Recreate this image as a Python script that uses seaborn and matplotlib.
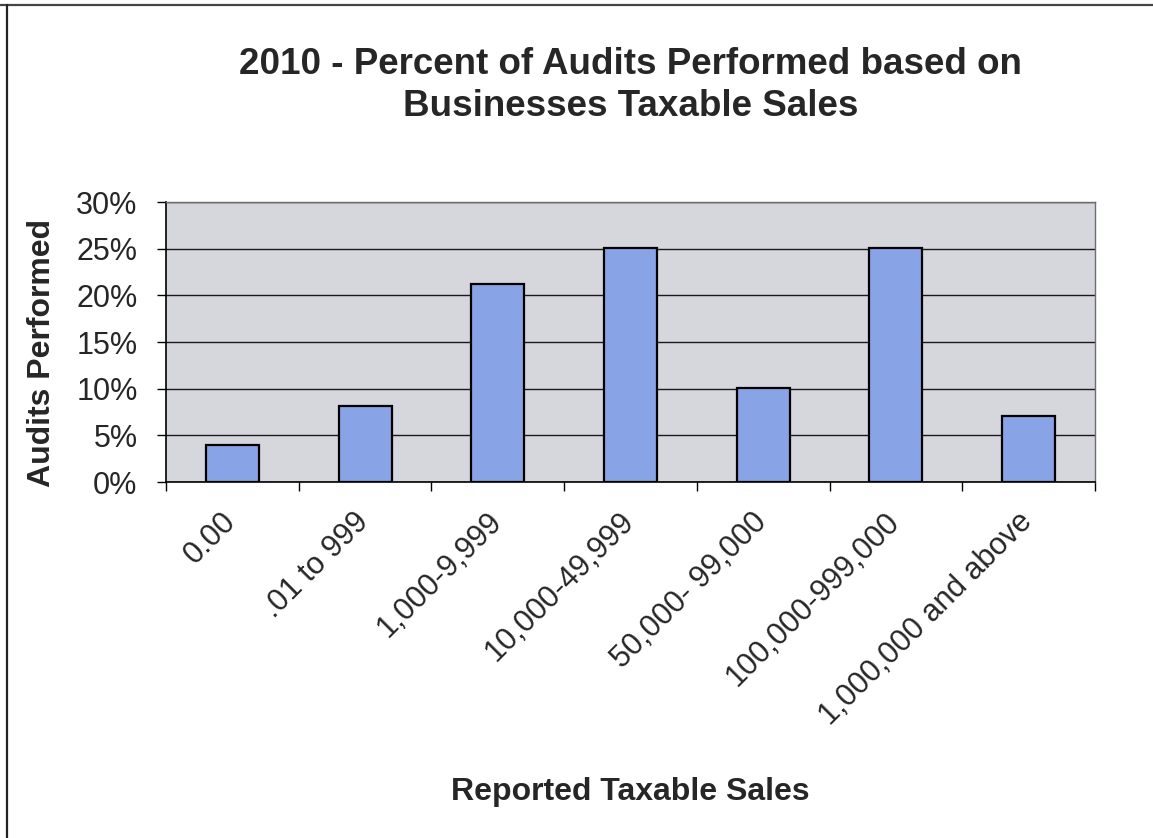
import matplotlib
matplotlib.use("Agg")
import matplotlib.pyplot as plt
from matplotlib.lines import Line2D
from matplotlib.ticker import FuncFormatter
from matplotlib.transforms import ScaledTranslation
import seaborn as sns
import pandas as pd

# Reported taxable sales brackets and share of audits performed (%)
categories = ["0.00", ".01 to 999", "1,000-9,999", "10,000-49,999",
              "50,000- 99,000", "100,000-999,000", "1,000,000 and above"]
audit_pct = [4.0, 8.1, 21.2, 25.1, 10.1, 25.1, 7.1]
y_ticks = [0, 5, 10, 15, 20, 25, 30]
title_lines = ["2010 - Percent of Audits Performed based on",
               "Businesses Taxable Sales"]

df = pd.DataFrame({"bracket": categories, "pct": audit_pct})

sns.set_style("white")
plt.rcParams["font.family"] = ["Liberation Sans", "DejaVu Sans"]

W, H = 1153, 838
fig = plt.figure(figsize=(W / 100, H / 100), dpi=100)
fig.patch.set_facecolor("white")

# axes box in pixel units -> figure fractions
ax_l, ax_r, ax_t, ax_b = 166, 1095, 202, 482
ax = fig.add_axes([ax_l / W, 1 - ax_b / H, (ax_r - ax_l) / W, (ax_b - ax_t) / H])
ax.set_facecolor("#D5D7DD")

sns.barplot(data=df, x="bracket", y="pct", ax=ax, color="#88A4E6",
            saturation=1, width=0.4, edgecolor="black", linewidth=1.6,
            zorder=3)

ax.set_xlim(-0.5, len(categories) - 0.5)
ax.set_ylim(0, 30)
ax.set_yticks(y_ticks)
ax.yaxis.set_major_formatter(FuncFormatter(lambda v, _: f"{v:.0f}%"))

# horizontal gridlines
ax.yaxis.grid(True, color="#1a1a1a", linewidth=1.0, zorder=1)
ax.xaxis.grid(False)
ax.set_axisbelow(True)

# category ticks sit on the boundaries between bars
ax.set_xticks([i - 0.5 for i in range(len(categories) + 1)], minor=False)
ax.set_xticklabels([""] * (len(categories) + 1))
ax.set_xticks(range(len(categories)), minor=True)
ax.set_xticklabels(categories, minor=True, rotation=45, ha="right",
                   va="top", fontsize=22)
ax.tick_params(axis="x", which="minor", length=0, pad=20)
ax.tick_params(axis="x", which="major", direction="out", length=6.5,
               width=1, color="black", bottom=True)
ax.tick_params(axis="y", direction="out", length=6.5, width=1,
               color="black", left=True, labelsize=22, pad=14)

shift = ScaledTranslation(10 / 100, 3 / 100, fig.dpi_scale_trans)
for lab in ax.get_xticklabels(minor=True):
    lab.set_transform(lab.get_transform() + shift)

for side in ("left", "bottom"):
    ax.spines[side].set_color("black")
    ax.spines[side].set_linewidth(1.2)
for side in ("top", "right"):
    ax.spines[side].set_color("#6e6e6e")
    ax.spines[side].set_linewidth(1.0)
    ax.spines[side].set_visible(True)

ax.set_xlabel("")
ax.set_ylabel("Audits Performed", fontsize=23, fontweight="bold")
ax.yaxis.set_label_coords(-0.117, 0.46)

# two-line title, each line on its own baseline
cx = 0.5 * (ax_l + ax_r) / W
for line, base in zip(title_lines, (74, 116)):
    fig.text(cx, 1 - base / H, line, ha="center", va="baseline",
             fontsize=26.5, fontweight="bold")
fig.text(cx, 1 - 800 / H, "Reported Taxable Sales",
         ha="center", va="baseline", fontsize=23, fontweight="bold")

# chart frame edges
fig.add_artist(Line2D([0, 1], [1 - 5 / H, 1 - 5 / H], color="#444444",
                      linewidth=1.6, transform=fig.transFigure))
fig.add_artist(Line2D([7 / W, 7 / W], [0, 1 - 5 / H], color="#222222",
                      linewidth=1.6, transform=fig.transFigure))

fig.savefig("out.png", dpi=100, facecolor="white")
